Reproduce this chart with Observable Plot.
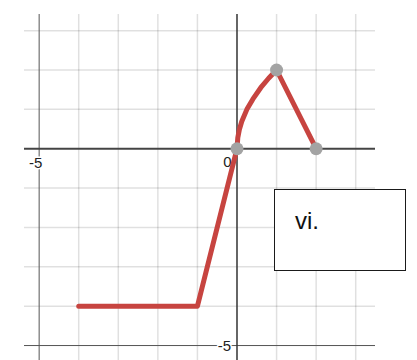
<!DOCTYPE html>
<html>
<head>
<meta charset="utf-8">
<script src="https://cdn.jsdelivr.net/npm/d3@7"></script>
<script src="https://cdn.jsdelivr.net/npm/@observablehq/plot@0.6"></script>
<style>
  html, body { margin: 0; padding: 0; background: #fff; }
  #wrap { position: relative; width: 417px; height: 360px; overflow: hidden; }
  #box { position: absolute; left: 274px; top: 189px; width: 130px; height: 80px;
         border: 1.5px solid #1a1a1a; background: #fff; box-sizing: content-box; }
  #box span { position: absolute; left: 20px; top: 17px; font: 24px "Liberation Sans", Arial, sans-serif; color: #111; }
</style>
</head>
<body>
<div id="wrap"></div>
<script>
// Curve (piecewise graph)
const curveX = [-4, -1, 0, 0.02, 0.06, 0.12, 0.25, 0.4, 0.6, 0.8, 1, 2];
const curveY = [-4, -4, 0, 0.28, 0.49, 0.69, 1, 1.26, 1.55, 1.79, 2, 0];
// Highlighted points
const pointX = [0, 1, 2];
const pointY = [0, 2, 0];
// Grid ticks
const gridX = [-5, -4, -3, -2, -1, 0, 1, 2, 3];
const gridY = [-5, -4, -3, -2, -1, 0, 1, 2, 3];
// Axis tick labels
const xLabelVals = [-5];
const xLabelText = ["-5"];
const originLabel = ["0"];
const yLabelVals = [-5];
const yLabelText = ["-5"];
const boxLabel = "vi.";

const curve = curveX.map((x, i) => ({x, y: curveY[i]}));
const pts = pointX.map((x, i) => ({x, y: pointY[i]}));
const font = "Liberation Sans, Arial, sans-serif";

const chart = Plot.plot({
  width: 417,
  height: 360,
  marginLeft: 24,
  marginRight: 42,
  marginTop: 14,
  marginBottom: 0,
  style: {background: "#fff", fontFamily: font},
  x: {domain: [-5.37, 3.5], axis: null},
  y: {domain: [-5.38, 3.41], axis: null},
  marks: [
    Plot.ruleX(gridX.filter(d => d !== 0 && d !== -5), {stroke: "#000", strokeOpacity: 0.12, strokeWidth: 1.5}),
    Plot.ruleY(gridY.filter(d => d !== 0 && d !== -5), {stroke: "#000", strokeOpacity: 0.12, strokeWidth: 1.5}),
    Plot.ruleX(gridX.filter(d => d === -5), {stroke: "#555", strokeWidth: 1}),
    Plot.ruleY(gridY.filter(d => d === -5), {stroke: "#555", strokeWidth: 1}),
    Plot.ruleY([0], {stroke: "#444", strokeWidth: 2}),
    Plot.ruleX([0], {stroke: "#333", strokeWidth: 1.5}),
    Plot.text(xLabelVals, {x: d => d, y: 0, text: (d, i) => xLabelText[i], dx: -3.5, dy: 14,
      fontSize: 15, fill: "#222", stroke: "white", strokeWidth: 3, fontFamily: font}),
    Plot.text(originLabel, {x: 0, y: 0, text: d => d, dx: -9.5, dy: 13,
      fontSize: 15, fill: "#222", stroke: "white", strokeWidth: 3, fontFamily: font}),
    Plot.text(yLabelVals, {x: 0, y: d => d, text: (d, i) => yLabelText[i], dx: -12.5, dy: 1,
      fontSize: 15, fill: "#222", stroke: "white", strokeWidth: 3, fontFamily: font}),
    Plot.line(curve, {x: "x", y: "y", stroke: "#c74440", strokeWidth: 5, strokeLinecap: "round", strokeLinejoin: "round", curve: "linear"}),
    Plot.dot(pts, {x: "x", y: "y", r: 6.5, fill: "#a3a3a3", stroke: "none"})
  ]
});

const wrap = document.getElementById("wrap");
wrap.appendChild(chart);
const box = document.createElement("div");
box.id = "box";
const span = document.createElement("span");
span.textContent = boxLabel;
box.appendChild(span);
wrap.appendChild(box);
</script>
</body>
</html>
